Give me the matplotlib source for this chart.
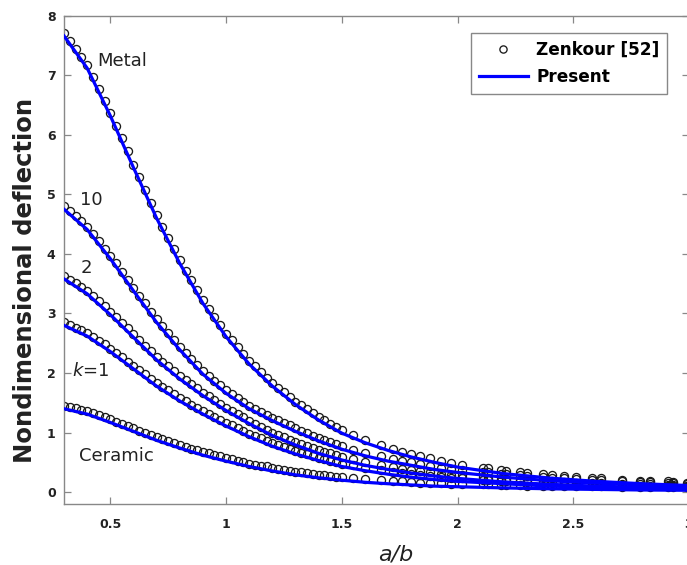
import matplotlib
matplotlib.use("Agg")
import matplotlib.pyplot as plt
from matplotlib.lines import Line2D

plt.rcParams['font.family'] = ['DejaVu Sans']
plt.rcParams['mathtext.fontset'] = 'custom'
plt.rcParams['mathtext.it'] = 'DejaVu Sans:italic'
plt.rcParams['mathtext.rm'] = 'DejaVu Sans'

# ---- Zenkour [52] reference points (open circles) ----
zen_x = [0.300, 0.325, 0.350, 0.375, 0.400, 0.425, 0.450, 0.475,
         0.500, 0.525, 0.550, 0.575, 0.600, 0.625, 0.650, 0.675,
         0.700, 0.725, 0.750, 0.775, 0.800, 0.825, 0.850, 0.875,
         0.900, 0.925, 0.950, 0.975, 1.000, 1.025, 1.050, 1.075,
         1.100, 1.125, 1.150, 1.175, 1.200, 1.225, 1.250, 1.275,
         1.300, 1.325, 1.350, 1.375, 1.400, 1.425, 1.450, 1.475,
         1.500,
         1.55, 1.60, 1.67, 1.72, 1.76, 1.80, 1.84, 1.88, 1.93, 1.97,
         2.02, 2.11, 2.13, 2.19, 2.21, 2.27, 2.30, 2.37, 2.41, 2.46,
         2.51, 2.58, 2.62, 2.71, 2.79, 2.83, 2.91, 2.93, 2.99]

zen_metal = [7.71, 7.57, 7.44, 7.30, 7.17, 6.97, 6.77, 6.57,
             6.37, 6.15, 5.94, 5.72, 5.50, 5.29, 5.08, 4.86,
             4.65, 4.46, 4.27, 4.08, 3.89, 3.72, 3.56, 3.39,
             3.22, 3.08, 2.94, 2.80, 2.66, 2.55, 2.43, 2.32,
             2.20, 2.11, 2.02, 1.92, 1.83, 1.75, 1.68, 1.60,
             1.52, 1.46, 1.39, 1.33, 1.26, 1.21, 1.15, 1.10,
             1.04,
             0.96, 0.88, 0.79, 0.73, 0.68, 0.64, 0.60, 0.57, 0.53, 0.49,
             0.46, 0.41, 0.40, 0.37, 0.36, 0.33, 0.32, 0.30, 0.28, 0.27,
             0.25, 0.24, 0.23, 0.21, 0.19, 0.19, 0.18, 0.17, 0.16]

zen_k10 = [4.80, 4.72, 4.63, 4.55, 4.46, 4.34, 4.22, 4.09,
           3.97, 3.84, 3.70, 3.57, 3.43, 3.30, 3.17, 3.03,
           2.90, 2.79, 2.67, 2.56, 2.44, 2.34, 2.24, 2.13,
           2.03, 1.95, 1.87, 1.79, 1.71, 1.65, 1.58, 1.52,
           1.45, 1.40, 1.35, 1.30, 1.25, 1.21, 1.16, 1.12,
           1.07, 1.03, 0.99, 0.95, 0.91, 0.88, 0.84, 0.81,
           0.77,
           0.71, 0.66, 0.60, 0.56, 0.53, 0.50, 0.47, 0.44, 0.41, 0.39,
           0.37, 0.34, 0.33, 0.31, 0.30, 0.28, 0.27, 0.25, 0.24, 0.23,
           0.22, 0.21, 0.20, 0.19, 0.17, 0.17, 0.16, 0.15, 0.14]

zen_k2 = [3.63, 3.57, 3.51, 3.44, 3.38, 3.29, 3.21, 3.12,
          3.03, 2.94, 2.84, 2.75, 2.65, 2.56, 2.46, 2.37,
          2.27, 2.19, 2.11, 2.03, 1.95, 1.88, 1.81, 1.74,
          1.67, 1.61, 1.55, 1.48, 1.42, 1.37, 1.31, 1.26,
          1.20, 1.15, 1.10, 1.05, 1.00, 0.96, 0.92, 0.88,
          0.84, 0.81, 0.77, 0.74, 0.70, 0.67, 0.65, 0.62,
          0.59,
          0.55, 0.50, 0.45, 0.42, 0.39, 0.37, 0.35, 0.33, 0.31, 0.29,
          0.28, 0.25, 0.24, 0.22, 0.22, 0.21, 0.20, 0.19, 0.18, 0.17,
          0.16, 0.15, 0.15, 0.14, 0.13, 0.13, 0.12, 0.12, 0.11]

zen_k1 = [2.85, 2.81, 2.76, 2.72, 2.67, 2.61, 2.54, 2.48,
          2.41, 2.34, 2.27, 2.19, 2.12, 2.05, 1.98, 1.90,
          1.83, 1.77, 1.71, 1.64, 1.58, 1.53, 1.47, 1.42,
          1.36, 1.31, 1.26, 1.21, 1.16, 1.12, 1.07, 1.03,
          0.98, 0.94, 0.90, 0.86, 0.82, 0.79, 0.76, 0.72,
          0.69, 0.66, 0.64, 0.61, 0.58, 0.56, 0.53, 0.51,
          0.48,
          0.45, 0.41, 0.37, 0.34, 0.32, 0.30, 0.29, 0.27, 0.25, 0.24,
          0.23, 0.21, 0.21, 0.19, 0.19, 0.18, 0.17, 0.16, 0.15, 0.15,
          0.14, 0.13, 0.13, 0.12, 0.11, 0.11, 0.11, 0.11, 0.10]

zen_ceramic = [1.45, 1.43, 1.41, 1.38, 1.36, 1.33, 1.29, 1.26,
               1.22, 1.18, 1.15, 1.11, 1.07, 1.03, 1.00, 0.96,
               0.92, 0.89, 0.86, 0.82, 0.79, 0.76, 0.73, 0.70,
               0.67, 0.65, 0.62, 0.60, 0.57, 0.55, 0.53, 0.50,
               0.48, 0.46, 0.44, 0.43, 0.41, 0.39, 0.37, 0.36,
               0.34, 0.33, 0.32, 0.30, 0.29, 0.28, 0.27, 0.26,
               0.25,
               0.23, 0.22, 0.20, 0.19, 0.18, 0.17, 0.16, 0.16, 0.15, 0.14,
               0.14, 0.13, 0.13, 0.12, 0.12, 0.12, 0.11, 0.11, 0.11, 0.10,
               0.10, 0.10, 0.10, 0.09, 0.09, 0.09, 0.08, 0.08, 0.08]

# ---- Present solution (blue lines) ----
pre_x = [0.3, 0.4, 0.5, 0.6, 0.7, 0.8, 0.9, 1.0, 1.1, 1.2, 1.3, 1.4,
         1.5, 1.6, 1.7, 1.8, 1.9, 2.0, 2.2, 2.4, 2.6, 2.8, 3.0]
pre_metal = [7.66, 7.12, 6.32, 5.45, 4.60, 3.84, 3.17, 2.61, 2.15, 1.78, 1.47, 1.21,
             0.99, 0.83, 0.70, 0.59, 0.50, 0.42, 0.31, 0.235, 0.18, 0.14, 0.11]
pre_k10 = [4.75, 4.41, 3.92, 3.38, 2.85, 2.39, 1.98, 1.66, 1.40, 1.20, 1.02, 0.86,
           0.72, 0.61, 0.52, 0.45, 0.38, 0.33, 0.25, 0.19, 0.15, 0.12, 0.09]
pre_k2 = [3.58, 3.33, 2.98, 2.60, 2.22, 1.90, 1.62, 1.37, 1.15, 0.95, 0.79, 0.65,
          0.54, 0.45, 0.38, 0.32, 0.27, 0.23, 0.17, 0.13, 0.10, 0.08, 0.06]
pre_k1 = [2.80, 2.62, 2.36, 2.07, 1.78, 1.53, 1.31, 1.11, 0.93, 0.77, 0.64, 0.53,
          0.43, 0.36, 0.30, 0.25, 0.21, 0.18, 0.14, 0.10, 0.08, 0.06, 0.05]
pre_ceramic = [1.40, 1.31, 1.17, 1.02, 0.87, 0.74, 0.62, 0.52, 0.43, 0.355, 0.29, 0.24,
               0.20, 0.165, 0.14, 0.12, 0.10, 0.09, 0.07, 0.055, 0.045, 0.035, 0.03]

xticks = [0.5, 1, 1.5, 2, 2.5, 3]
xtick_labels = ['0.5', '1', '1.5', '2', '2.5', '3']
yticks = [0, 1, 2, 3, 4, 5, 6, 7, 8]
curve_labels = ['Metal', '10', '2', '$k$=1', 'Ceramic']
label_pos = [(0.551, 7.24), (0.417, 4.90), (0.395, 3.76), (0.417, 2.03), (0.527, 0.60)]
legend_labels = ['Zenkour [52]', 'Present']

fig = plt.figure(figsize=(6.87, 5.65), dpi=100)
ax = fig.add_axes([64 / 687, 61 / 565, 625 / 687, 488.3 / 565])

zen_all = [zen_metal, zen_k10, zen_k2, zen_k1, zen_ceramic]
pre_all = [pre_metal, pre_k10, pre_k2, pre_k1, pre_ceramic]

for ys in zen_all:
    ax.plot(zen_x, ys, ls='none', marker='o', ms=5.8, mfc='none',
            mec='#1a1a1a', mew=0.95, zorder=2)
for ys in pre_all:
    ax.plot(pre_x, ys, color='#0000ff', lw=2.3, zorder=3)

ax.set_xlim(0.3, 3.0)
ax.set_ylim(-0.2, 8)
ax.set_xticks(xticks)
ax.set_xticklabels(xtick_labels)
ax.set_yticks(yticks)
ax.tick_params(direction='in', length=5, width=0.9, color='#888888',
               top=True, right=True, labelsize=9, labelcolor='#222222')
ax.tick_params(axis='x', pad=10)
ax.tick_params(axis='y', pad=6)
for lab in ax.get_xticklabels() + ax.get_yticklabels():
    lab.set_fontweight('bold')
for sp in ax.spines.values():
    sp.set_color('#888888')
    sp.set_linewidth(1.0)

for txt, (tx, ty) in zip(curve_labels, label_pos):
    ax.text(tx, ty, txt, fontsize=13, ha='center', va='center', color='#222222')

ax.set_ylabel('Nondimensional deflection', fontsize=17.5, fontweight='bold', color='#222222')
ax.yaxis.set_label_coords(-0.043, 0.457)
ax.set_xlabel('a/b', fontsize=16, fontstyle='italic', color='#222222')
ax.xaxis.set_label_coords(0.53, -0.082)

handles = [Line2D([], [], ls='none', marker='o', ms=5.2, mfc='none', mec='#1a1a1a', mew=0.95),
           Line2D([], [], color='#0000ff', lw=2.3)]
leg = ax.legend(handles, legend_labels, loc='upper left', bbox_to_anchor=(0.651, 0.9646),
                borderaxespad=0, fancybox=False, framealpha=1, edgecolor='#888888',
                handlelength=2.95, handletextpad=0.47, borderpad=0.45, labelspacing=0.55,
                prop={'weight': 'bold', 'size': 12.2})
leg.get_frame().set_linewidth(1.0)

fig.savefig('out.png', dpi=100)
